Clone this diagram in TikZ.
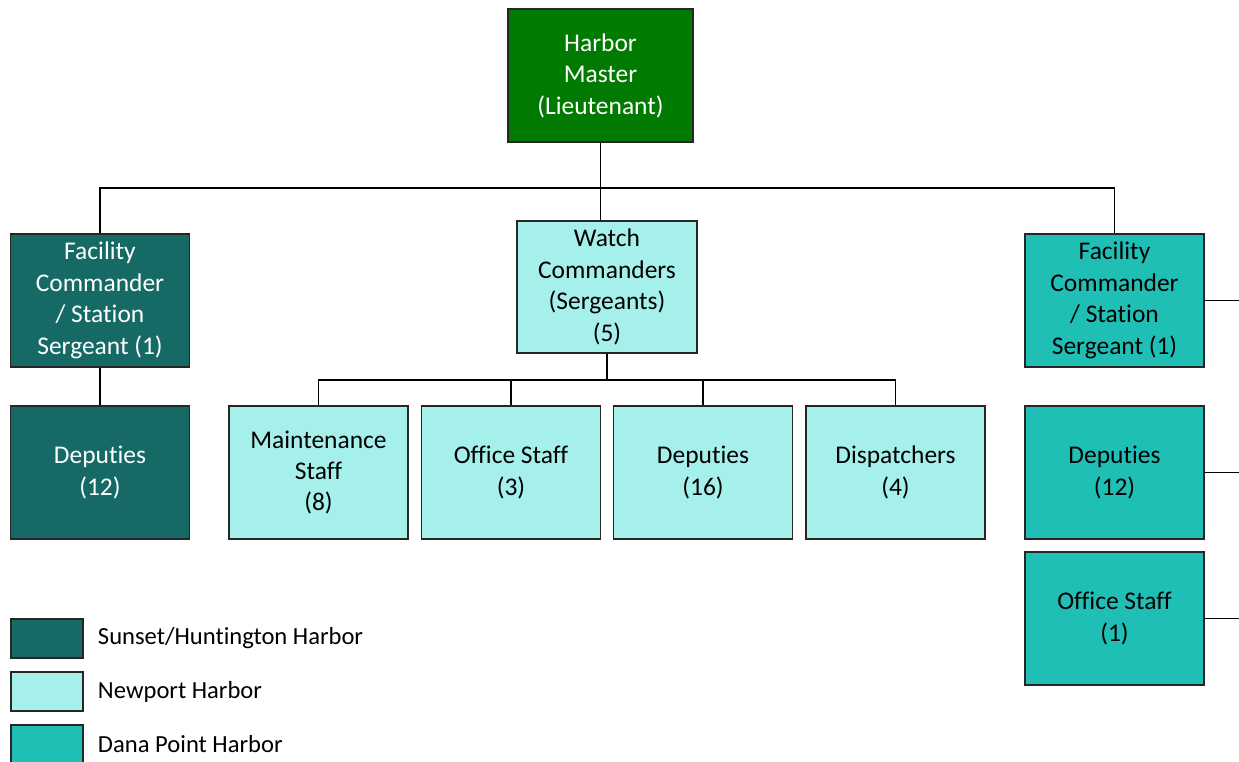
\documentclass[tikz,border=0pt]{standalone}
\usepackage{fontspec}
\setmainfont{Carlito}[RawFeature={-liga;-calt;-dlig}]
\usetikzlibrary{positioning}
\definecolor{hmgreen}{RGB}{0,122,0}
\definecolor{sunset}{RGB}{21,106,101}
\definecolor{newport}{RGB}{166,240,236}
\definecolor{dana}{RGB}{32,191,182}
\begin{document}
\begin{tikzpicture}[x=0.02cm,y=-0.02cm,
  every node/.style={font=\fontsize{14.5}{17.9}\selectfont},
  box/.style={draw=black!85,line width=0.9pt,minimum width=3.58cm,minimum height=2.66cm,align=center,inner sep=1pt},
  legbox/.style={draw=black!85,line width=0.9pt,minimum width=1.44cm,minimum height=0.78cm},
  legtext/.style={right=1.6mm of #1,font=\fontsize{14}{16}\selectfont},
  link/.style={line width=0.8pt}]
  \useasboundingbox (0,0) rectangle (1239,761);
  \node[box,fill=hmgreen,text=white,minimum width=3.7cm] (hm) at (600.5,75.5) {Harbor\\Master\\(Lieutenant)};

  \node[box,fill=sunset,text=white] (fc1) at (100,300.5) {Facility\\Commander\\/ Station\\Sergeant (1)};
  \node[box,fill=sunset,text=white] (dep1) at (100,472.5) {Deputies\\(12)};

  \node[box,fill=newport,minimum width=3.6cm,minimum height=2.64cm] (wc) at (607,287) {Watch\\Commanders\\(Sergeants)\\(5)};
  \node[box,fill=newport] (ms) at (318.5,472.5) {Maintenance\\Staff\\(8)};
  \node[box,fill=newport] (os) at (511,472.5) {Office Staff\\(3)};
  \node[box,fill=newport] (dp) at (703,472.5) {Deputies\\(16)};
  \node[box,fill=newport] (dis) at (895.5,472.5) {Dispatchers\\(4)};

  \node[box,fill=dana] (fc2) at (1114.5,300.5) {Facility\\Commander\\/ Station\\Sergeant (1)};
  \node[box,fill=dana] (dep2) at (1114.5,472.5) {Deputies\\(12)};
  \node[box,fill=dana] (os2) at (1114.5,618.5) {Office Staff\\(1)};

  \coordinate (bus) at (600.5,188);
  \coordinate (wbus) at (607,380);
  \draw[link] (hm.south) -- (hm.south |- wc.north);
  \draw[link] (fc1.north) |- (bus) -| (fc2.north);
  \draw[link] (fc1) -- (dep1);
  \draw[link] (wc.south) -- (wbus);
  \draw[link] (ms.north) |- (wbus) -| (dis.north);
  \draw[link] (os.north) -- (os.north |- wbus);
  \draw[link] (dp.north) -- (dp.north |- wbus);

  \coordinate (e1) at (1239,300.5);
  \coordinate (e2) at (1239,472.5);
  \coordinate (e3) at (1239,618.5);
  \draw[link] (fc2.east) -- (e1);
  \draw[link] (dep2.east) -- (e2);
  \draw[link] (os2.east) -- (e3);

  % legend
  \node[legbox,fill=sunset] (l1) at (47,638.5) {};
  \node[legbox,fill=newport] (l2) at (47,691.5) {};
  \node[legbox,fill=dana] (l3) at (47,744.5) {};
  \node[legtext=l1] (t1) {Sunset/Huntington Harbor};
  \node[legtext=l2] (t2) {Newport Harbor};
  \node[legtext=l3] (t3) {Dana Point Harbor};
\end{tikzpicture}
\end{document}
